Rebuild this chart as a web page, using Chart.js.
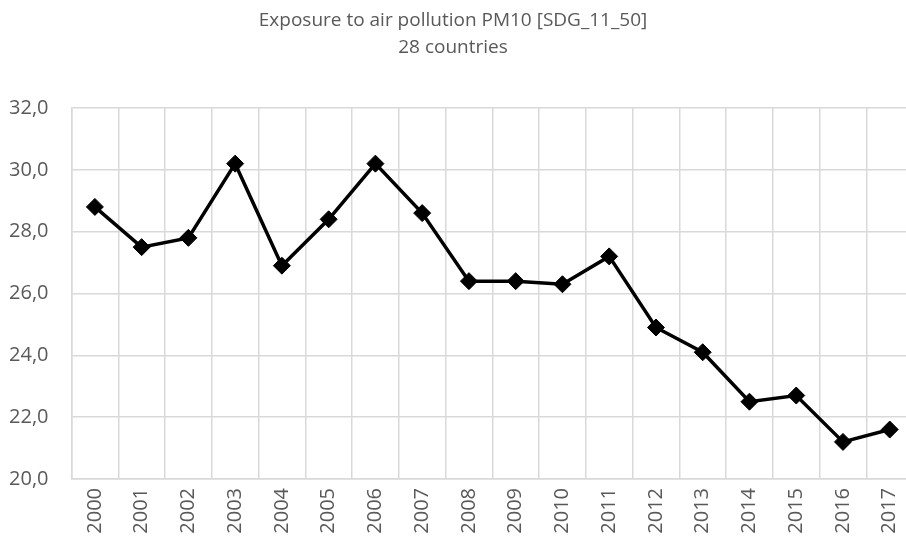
<!DOCTYPE html>
<html>
<head>
<meta charset="utf-8">
<script src="https://cdn.jsdelivr.net/npm/chart.js@4/dist/chart.umd.min.js"></script>
<style>
  html, body { margin: 0; padding: 0; background: #fff; overflow: hidden; }
  #wrap { position: relative; width: 923px; height: 546px; }
</style>
</head>
<body>
<div id="wrap"><canvas id="pmChart"></canvas></div>
<script>
// data
const years = ["2000", "2001", "2002", "2003", "2004", "2005", "2006", "2007", "2008",
  "2009", "2010", "2011", "2012", "2013", "2014", "2015", "2016", "2017"];
const pm10 = [28.8, 27.5, 27.8, 30.2, 26.9, 28.4, 30.2, 28.6, 26.4,
  26.4, 26.3, 27.2, 24.9, 24.1, 22.5, 22.7, 21.2, 21.6];
const titleLines = ["Exposure to air pollution PM10 [SDG_11_50]", "28 countries"];
const yMin = 20, yMax = 32, yStep = 2;

const textColor = "#595959";
const gridColor = "#d9d9d9";
const fontFamily = "'Open Sans', 'Liberation Sans', sans-serif";

// canvas is a bit wider than the window (plot runs off the right edge like the original),
// so the title is drawn centred on the visible 906px instead of using the title plugin
const centredTitle = {
  id: "centredTitle",
  afterDraw(chart) {
    const ctx = chart.ctx;
    ctx.save();
    ctx.fillStyle = textColor;
    ctx.font = "19px " + fontFamily;
    ctx.textAlign = "center";
    ctx.textBaseline = "middle";
    titleLines.forEach((line, i) => ctx.fillText(line, 453, 21 + i * 27));
    ctx.restore();
  },
};

new Chart(document.getElementById("pmChart"), {
  type: "line",
  data: {
    labels: years,
    datasets: [
      {
        data: pm10,
        borderColor: "#000",
        backgroundColor: "#000",
        borderWidth: 3.5,
        pointStyle: "rectRot",
        pointRadius: 8.5,
        pointBorderWidth: 1,
        tension: 0,
        fill: false,
      },
    ],
  },
  options: {
    responsive: true,
    maintainAspectRatio: false,
    animation: false,
    layout: { padding: { left: 0, right: 0, top: 108, bottom: 0 } },
    plugins: {
      legend: { display: false },
      tooltip: { enabled: false },
      title: { display: false },
    },
    scales: {
      x: {
        offset: true,
        grid: { offset: true, color: gridColor, lineWidth: 1.5, drawTicks: false },
        border: { color: gridColor, width: 1.5 },
        ticks: {
          color: textColor,
          font: { family: fontFamily, size: 20 },
          minRotation: 90,
          maxRotation: 90,
          autoSkip: false,
          padding: 9,
        },
        afterFit: (scale) => { scale.height = 67; },
      },
      y: {
        min: yMin,
        max: yMax,
        grid: { color: gridColor, lineWidth: 1.5, drawTicks: false },
        border: { color: gridColor, width: 1.5 },
        ticks: {
          stepSize: yStep,
          color: textColor,
          font: { family: fontFamily, size: 20 },
          padding: 23,
          callback: (v) => v.toFixed(1).replace(".", ","),
        },
        afterFit: (scale) => { scale.width = 71.5; },
      },
    },
  },
  plugins: [centredTitle],
});
</script>
</body>
</html>
